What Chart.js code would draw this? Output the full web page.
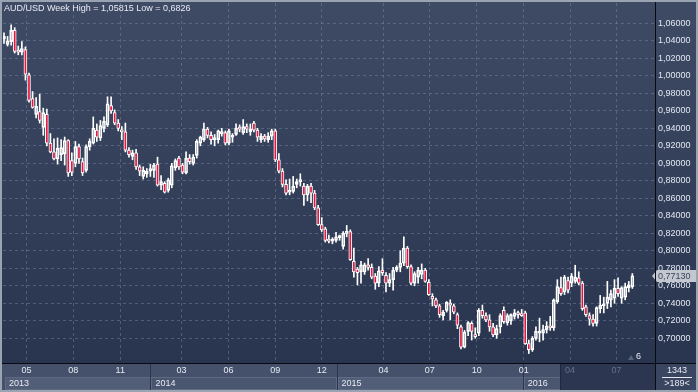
<!DOCTYPE html>
<html>
<head>
<meta charset="utf-8">
<title>AUD/USD Week</title>
<script src="https://cdn.jsdelivr.net/npm/chart.js@4.4.1/dist/chart.umd.min.js"></script>
<style>
  html, body { margin: 0; padding: 0; background: #2e3a54; }
</style>
</head>
<body>
<canvas id="myChart" width="698" height="392"></canvas>
<script>
// weekly candles, first one starts on this monday
var startDate = Date.UTC(2013, 2, 18);

var open = [1.042,1.036,1.039,1.052,1.028,1.027,1.030,1.001,0.974,0.956,0.959,0.941,0.956,0.923,0.913,0.905,0.910,0.911,0.926,0.903,
  0.900,0.919,0.902,0.892,0.919,0.923,0.938,0.929,0.940,0.944,0.966,0.958,0.946,0.938,0.936,0.915,0.908,0.912,0.896,0.885,
  0.888,0.891,0.892,0.899,0.875,0.877,0.869,0.875,0.895,0.906,0.898,0.889,0.906,0.900,0.909,0.923,0.927,0.939,0.932,0.927,
  0.927,0.934,0.935,0.923,0.930,0.933,0.941,0.935,0.942,0.936,0.946,0.938,0.927,0.931,0.927,0.931,0.937,0.904,0.891,0.876,
  0.867,0.868,0.876,0.879,0.874,0.864,0.874,0.866,0.849,0.830,0.825,0.813,0.811,0.812,0.815,0.805,0.820,0.822,0.788,0.779,
  0.776,0.776,0.784,0.781,0.771,0.763,0.778,0.772,0.763,0.767,0.778,0.781,0.786,0.803,0.782,0.763,0.770,0.773,0.778,0.764,
  0.748,0.744,0.737,0.726,0.732,0.740,0.737,0.727,0.713,0.690,0.708,0.717,0.704,0.706,0.732,0.726,0.721,0.713,0.704,0.713,
  0.732,0.718,0.720,0.725,0.729,0.728,0.729,0.694,0.687,0.700,0.706,0.706,0.710,0.714,0.712,0.742,0.758,0.753,0.766,0.763,
  0.765,0.769,0.763,0.736,0.726,0.722,0.717,0.734,0.737,0.740,0.744,0.746,0.757,0.746,0.747,0.758,0.759];
var high = [1.049,1.045,1.0582,1.055,1.034,1.039,1.033,1.003,0.982,0.975,0.979,0.963,0.962,0.934,0.928,0.929,0.927,0.930,0.927,0.912,
  0.925,0.922,0.906,0.921,0.928,0.953,0.945,0.949,0.953,0.976,0.976,0.961,0.950,0.942,0.946,0.918,0.915,0.916,0.898,0.896,
  0.894,0.899,0.900,0.907,0.886,0.879,0.883,0.900,0.905,0.908,0.900,0.913,0.910,0.910,0.927,0.931,0.946,0.941,0.936,0.933,
  0.938,0.940,0.937,0.939,0.934,0.945,0.944,0.950,0.945,0.945,0.948,0.940,0.934,0.933,0.935,0.939,0.939,0.911,0.894,0.881,
  0.882,0.885,0.882,0.888,0.877,0.876,0.877,0.869,0.852,0.838,0.827,0.818,0.815,0.821,0.818,0.822,0.829,0.824,0.803,0.781,
  0.788,0.786,0.791,0.785,0.774,0.782,0.791,0.775,0.774,0.781,0.783,0.800,0.816,0.805,0.784,0.776,0.781,0.785,0.780,0.767,
  0.751,0.746,0.739,0.732,0.742,0.744,0.739,0.729,0.715,0.709,0.719,0.719,0.712,0.734,0.738,0.729,0.727,0.717,0.715,0.728,
  0.736,0.728,0.728,0.733,0.731,0.733,0.731,0.698,0.702,0.713,0.723,0.715,0.719,0.725,0.745,0.767,0.770,0.772,0.770,0.774,
  0.7835,0.776,0.765,0.738,0.729,0.727,0.736,0.749,0.747,0.765,0.755,0.767,0.769,0.759,0.763,0.765,0.774];
var low = [1.037,1.034,1.035,1.026,1.024,1.024,0.995,0.970,0.963,0.952,0.946,0.932,0.920,0.912,0.904,0.899,0.903,0.898,0.885,0.886,
  0.896,0.900,0.886,0.890,0.915,0.922,0.925,0.926,0.936,0.942,0.957,0.944,0.937,0.927,0.913,0.907,0.904,0.893,0.886,0.882,
  0.884,0.885,0.884,0.874,0.870,0.866,0.867,0.872,0.892,0.893,0.888,0.888,0.899,0.898,0.906,0.920,0.925,0.929,0.922,0.920,
  0.923,0.931,0.921,0.921,0.924,0.932,0.936,0.933,0.935,0.932,0.936,0.925,0.924,0.925,0.924,0.927,0.902,0.889,0.873,0.864,
  0.864,0.866,0.872,0.874,0.852,0.857,0.855,0.847,0.829,0.822,0.810,0.809,0.808,0.810,0.812,0.802,0.816,0.789,0.770,0.761,
  0.763,0.773,0.778,0.768,0.756,0.759,0.772,0.753,0.759,0.755,0.776,0.776,0.783,0.780,0.761,0.760,0.763,0.768,0.764,0.749,
  0.737,0.735,0.724,0.721,0.730,0.721,0.728,0.711,0.688,0.689,0.703,0.698,0.700,0.703,0.723,0.719,0.708,0.702,0.700,0.706,
  0.717,0.715,0.716,0.722,0.723,0.725,0.693,0.6826,0.685,0.698,0.696,0.698,0.706,0.709,0.709,0.740,0.749,0.750,0.752,0.759,
  0.763,0.761,0.732,0.725,0.715,0.714,0.714,0.729,0.729,0.734,0.736,0.740,0.748,0.740,0.744,0.753,0.757];
var close = [1.045,1.040,1.052,1.028,1.027,1.031,1.002,0.972,0.964,0.965,0.949,0.958,0.923,0.913,0.905,0.917,0.918,0.926,0.889,0.890,
  0.919,0.905,0.889,0.919,0.925,0.940,0.930,0.943,0.948,0.968,0.960,0.946,0.940,0.936,0.915,0.910,0.912,0.896,0.891,0.892,
  0.891,0.894,0.898,0.875,0.879,0.867,0.881,0.897,0.903,0.896,0.890,0.906,0.902,0.907,0.925,0.930,0.939,0.932,0.927,0.929,
  0.937,0.936,0.923,0.937,0.932,0.940,0.939,0.942,0.939,0.939,0.938,0.930,0.931,0.928,0.931,0.937,0.904,0.891,0.876,0.866,
  0.869,0.874,0.879,0.881,0.864,0.874,0.866,0.849,0.830,0.824,0.812,0.811,0.813,0.816,0.816,0.820,0.822,0.790,0.776,0.775,
  0.784,0.784,0.781,0.770,0.763,0.777,0.775,0.763,0.767,0.778,0.781,0.786,0.803,0.782,0.763,0.774,0.778,0.778,0.765,0.750,
  0.745,0.737,0.727,0.730,0.741,0.738,0.730,0.715,0.690,0.707,0.718,0.708,0.702,0.732,0.726,0.721,0.713,0.704,0.711,0.726,
  0.719,0.726,0.727,0.729,0.727,0.726,0.694,0.687,0.700,0.708,0.708,0.710,0.714,0.712,0.744,0.759,0.751,0.770,0.755,0.771,
  0.770,0.763,0.734,0.727,0.722,0.717,0.735,0.738,0.739,0.747,0.751,0.757,0.751,0.758,0.759,0.761,0.7713];

var priceTicks = [0.70, 0.72, 0.74, 0.76, 0.78, 0.80, 0.82, 0.84, 0.86, 0.88, 0.90, 0.92, 0.94, 0.96, 0.98, 1.00, 1.02, 1.04, 1.06];
var monthTicks = ['2013-05', '2013-08', '2013-11', '2014-03', '2014-06', '2014-09', '2014-12', '2015-04', '2015-07', '2015-10', '2016-01', '2016-04', '2016-07'];
var yearTicks = ['2013', '2014', '2015', '2016'];
var lastPrice = 0.7713;
var titleText = 'AUD/USD Week High = 1,05815 Low = 0,6826';

var FONT = '"Liberation Sans", Arial, sans-serif';

function weekPos(s) {
    var p = s.split('-');
    var t = Date.UTC(+p[0], (+p[1] || 1) - 1, 1);
    return (t - startDate) / (7 * 86400000);
}

var idx = close.map(function(c, i) { return i; });
var bodies = idx.map(function(i) { return { x: i, y: [open[i], close[i]] }; });
var upperWicks = idx.map(function(i) { return { x: i, y: [Math.max(open[i], close[i]), high[i]] }; });
var lowerWicks = idx.map(function(i) { return { x: i, y: [low[i], Math.min(open[i], close[i])] }; });
var bodyColors = idx.map(function(i) { return close[i] >= open[i] ? 'rgba(0,0,0,0)' : '#e3173f'; });

var decor = {
    id: 'decor',
    beforeDraw: function(chart) {
        var ctx = chart.ctx, a = chart.chartArea;
        ctx.save();
        var g = ctx.createLinearGradient(0, 0, 0, a.bottom);
        g.addColorStop(0, '#3f4b65');
        g.addColorStop(1, '#29344e');
        ctx.fillStyle = g;
        ctx.fillRect(0, 0, chart.width, a.bottom);
        ctx.fillStyle = '#45516b';
        ctx.fillRect(0, a.bottom, chart.width, chart.height - a.bottom);
        ctx.restore();
    },
    afterDraw: function(chart) {
        var ctx = chart.ctx, a = chart.chartArea;
        var xs = chart.scales.x, ys = chart.scales.y;
        var W = chart.width, H = chart.height;
        var fadeX = 561;
        ctx.save();

        // year row
        var rowTop = a.bottom + 14, rowBot = H - 2;
        for (var k = 0; k < yearTicks.length; k++) {
            var x0 = Math.max(xs.getPixelForValue(weekPos(yearTicks[k])), a.left + 2);
            var x1 = k + 1 < yearTicks.length ? xs.getPixelForValue(weekPos(yearTicks[k + 1])) : fadeX;
            x1 = Math.min(x1, fadeX);
            ctx.fillStyle = k % 2 === 0 ? '#525e77' : '#4a566f';
            ctx.fillRect(x0, rowTop, x1 - x0, rowBot - rowTop);
            ctx.strokeStyle = '#5e6a82';
            ctx.strokeRect(Math.round(x0) + 0.5, rowTop + 0.5, x1 - x0 - 1, rowBot - rowTop - 1);
            ctx.fillStyle = '#e6ebf3';
            ctx.font = '9px ' + FONT;
            ctx.textAlign = 'left';
            ctx.textBaseline = 'middle';
            ctx.fillText(yearTicks[k], x0 + 4, rowTop + 7);
            if (k > 0) {
                ctx.fillStyle = '#2b3550';
                ctx.fillRect(Math.round(x0) - 1, a.bottom, 1, rowBot - a.bottom);
            }
        }
        // area without data range
        ctx.fillStyle = '#2c3650';
        ctx.fillRect(fadeX, a.bottom, a.right - fadeX, rowBot - a.bottom);
        ctx.fillStyle = '#1f2840';
        ctx.fillRect(fadeX - 1, a.bottom, 1, rowBot - a.bottom);

        // month labels
        ctx.font = '9px ' + FONT;
        ctx.textAlign = 'center';
        ctx.textBaseline = 'middle';
        monthTicks.forEach(function(m) {
            var x = xs.getPixelForValue(weekPos(m));
            ctx.fillStyle = x > fadeX ? '#66728b' : '#e6ebf3';
            ctx.fillText(m.slice(5), x, a.bottom + 8);
        });

        // title
        ctx.font = '9px ' + FONT;
        ctx.textAlign = 'left';
        ctx.textBaseline = 'middle';
        ctx.fillStyle = '#e6ebf3';
        ctx.fillText(titleText, 4, 9);

        // last price tag
        var yc = Math.round(ys.getPixelForValue(lastPrice));
        ctx.fillStyle = '#c3c7cf';
        ctx.beginPath();
        ctx.moveTo(652, yc);
        ctx.lineTo(657, yc - 6);
        ctx.lineTo(W, yc - 6);
        ctx.lineTo(W, yc + 6);
        ctx.lineTo(657, yc + 6);
        ctx.closePath();
        ctx.fill();
        ctx.fillStyle = '#3a4660';
        ctx.textAlign = 'left';
        ctx.fillText(lastPrice.toFixed(5).replace('.', ','), 658, yc + 0.5);

        // small marker near the bottom right of plot
        ctx.fillStyle = '#59647a';
        ctx.beginPath();
        ctx.moveTo(628, a.bottom - 3);
        ctx.lineTo(634, a.bottom - 3);
        ctx.lineTo(631, a.bottom - 8);
        ctx.closePath();
        ctx.fill();
        ctx.fillStyle = '#e6ebf3';
        ctx.fillText('6', 636, a.bottom - 6);

        // dark separators
        ctx.fillStyle = '#070a12';
        ctx.fillRect(0, a.bottom, W, 1);
        ctx.fillRect(a.right, 0, 1, H);

        // bottom right box
        ctx.fillStyle = '#3a4660';
        ctx.fillRect(a.right + 1, a.bottom + 1, W - a.right - 1, H - a.bottom - 1);
        ctx.fillStyle = '#e6ebf3';
        ctx.textAlign = 'center';
        ctx.fillText('1343', 677, a.bottom + 8);
        ctx.fillRect(662, a.bottom + 14, 30, 1);
        ctx.fillText('>189<', 677, a.bottom + 21);

        // frame
        ctx.strokeStyle = '#9aa3b2';
        ctx.lineWidth = 2;
        ctx.strokeRect(1, 1, W - 2, H - 2);
        ctx.restore();
    }
};

var gridStyle = { color: 'rgba(125,140,170,0.45)', lineWidth: 1, drawTicks: false, offset: false };

var chart = new Chart(document.getElementById('myChart'), {
    type: 'bar',
    data: {
        datasets: [{
            label: 'body',
            data: bodies,
            backgroundColor: bodyColors,
            borderColor: '#ffffff',
            borderWidth: 1,
            borderSkipped: false,
            barThickness: 3,
            minBarLength: 2,
            grouped: false
        }, {
            label: 'upper',
            data: upperWicks,
            backgroundColor: '#ffffff',
            borderWidth: 0,
            barThickness: 1,
            grouped: false
        }, {
            label: 'lower',
            data: lowerWicks,
            backgroundColor: '#ffffff',
            borderWidth: 0,
            barThickness: 1,
            grouped: false
        }]
    },
    options: {
        responsive: false,
        animation: false,
        events: [],
        layout: { padding: { top: 3, left: 3, right: 0, bottom: 29 } },
        plugins: { legend: { display: false }, tooltip: { enabled: false }, title: { display: false } },
        scales: {
            x: {
                type: 'linear',
                offset: false,
                min: -0.28,
                max: 182.35,
                grid: gridStyle,
                border: { display: false, dash: [3, 3] },
                ticks: { display: false },
                afterBuildTicks: function(s) {
                    s.ticks = monthTicks.map(function(m) { return { value: weekPos(m) }; });
                },
                afterFit: function(s) { s.height = 0; s.paddingLeft = 0; s.paddingRight = 0; }
            },
            y: {
                position: 'right',
                min: 0.67177,
                max: 1.0832,
                grid: gridStyle,
                border: { display: false, dash: [3, 3] },
                ticks: {
                    color: '#e2e8f2',
                    font: { family: FONT, size: 9 },
                    padding: 3,
                    callback: function(v) { return v.toFixed(5).replace('.', ','); }
                },
                afterBuildTicks: function(s) {
                    s.ticks = priceTicks.map(function(v) { return { value: v }; });
                },
                afterFit: function(s) { s.width = 43; s.paddingTop = 0; s.paddingBottom = 0; }
            }
        }
    },
    plugins: [decor]
});
</script>
</body>
</html>
